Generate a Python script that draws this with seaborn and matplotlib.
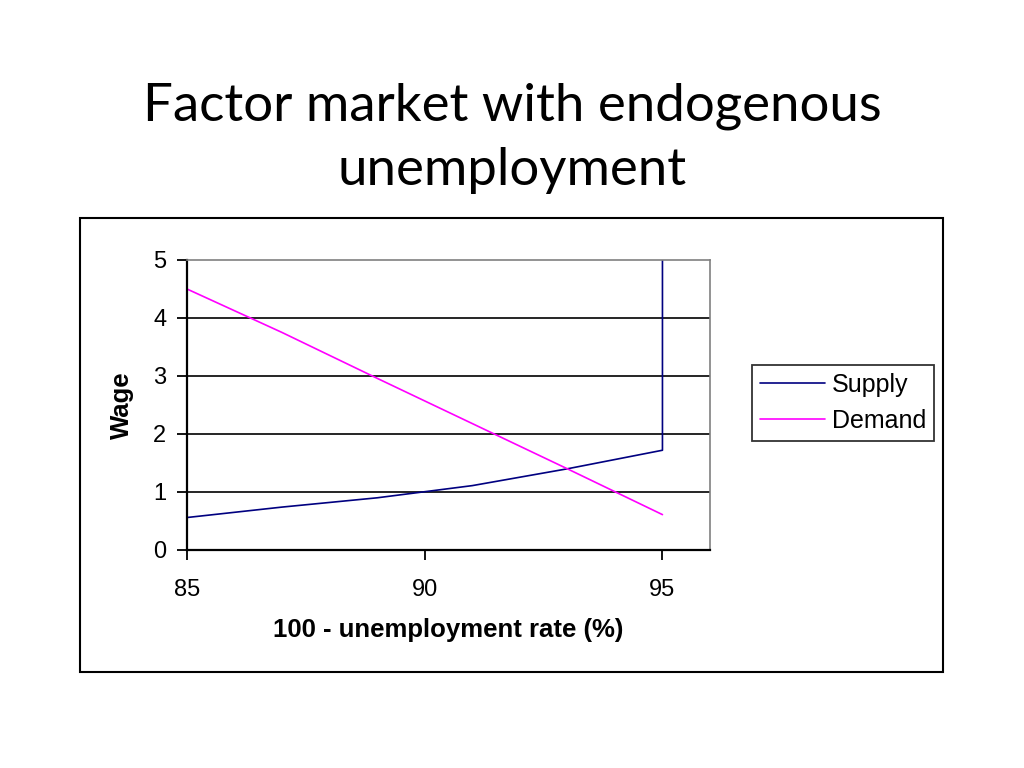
import seaborn as sns
import pandas as pd
import matplotlib
matplotlib.use('Agg')
from matplotlib import pyplot as plt
from matplotlib.patches import Rectangle

# donnees
supply_x = [85, 87, 89, 91, 93, 95, 95]
supply_y = [0.56, 0.74, 0.90, 1.11, 1.40, 1.72, 5.0]
demand_x = [85, 87, 89, 91, 93, 95]
demand_y = [4.5, 3.75, 2.96, 2.18, 1.40, 0.61]
series_names = ['Supply', 'Demand']
x_ticks = [85, 90, 95]
y_ticks = [0, 1, 2, 3, 4, 5]

df = pd.DataFrame({
    'x': supply_x + demand_x,
    'y': supply_y + demand_y,
    'serie': [series_names[0]] * len(supply_x) + [series_names[1]] * len(demand_x),
})

sns.set_style('white')
plt.rcParams['font.family'] = ['Liberation Sans', 'DejaVu Sans']
plt.rcParams['text.color'] = 'black'
plt.rcParams['axes.labelcolor'] = 'black'
plt.rcParams['xtick.color'] = 'black'
plt.rcParams['ytick.color'] = 'black'

fig = plt.figure(figsize=(10.24, 7.68), dpi=100)
ax = fig.add_axes([187 / 1024, 1 - 550 / 768, 523 / 1024, 290 / 768])

sns.lineplot(data=df, x='x', y='y', hue='serie', estimator=None, sort=False,
             palette={'Supply': '#000080', 'Demand': '#FF00FF'}, linewidth=1.2, ax=ax)

ax.set_xlim(85, 96)
ax.set_ylim(0, 5)
ax.set_xticks(x_ticks)
ax.set_yticks(y_ticks)
ax.tick_params(axis='both', direction='out', length=7, width=1.3, labelsize=17,
               bottom=True, left=True, color='black', labelcolor='black')
ax.tick_params(axis='x', pad=14)
ax.tick_params(axis='y', pad=8)
for y in y_ticks[1:5]:
    ax.axhline(y, color='black', linewidth=1.2, zorder=0)
for side in ['left', 'bottom']:
    ax.spines[side].set_color('black')
    ax.spines[side].set_linewidth(1.6)
for side in ['top', 'right']:
    ax.spines[side].set_color('#808080')
    ax.spines[side].set_linewidth(1.2)

ax.set_xlabel('100 - unemployment rate (%)', fontsize=18.5, fontweight='bold', labelpad=12)
ax.set_ylabel('Wage', fontsize=18.5, fontweight='bold', labelpad=14)

ax.get_legend().remove()
h, l = ax.get_legend_handles_labels()
fig.legend(h, l, loc='upper left', bbox_to_anchor=(752 / 1024, 1 - 365 / 768),
           frameon=True, fancybox=False, edgecolor='black', fontsize=18,
           handlelength=2.6, borderpad=0.3, labelspacing=0.5, handletextpad=0.3,
           borderaxespad=0)
fig.legends[0].get_frame().set_linewidth(1.3)

# cadre du graphique
fig.patches.append(Rectangle((80 / 1024, 1 - 672 / 768), 863 / 1024, 454 / 768,
                             transform=fig.transFigure, fill=False,
                             edgecolor='black', linewidth=1.5))

fig.text(0.5, 1 - 120 / 768, 'Factor market with endogenous', ha='center', va='baseline',
         fontsize=38, color='black', family=['Lato', 'DejaVu Sans'])
fig.text(0.5, 1 - 185 / 768, 'unemployment', ha='center', va='baseline',
         fontsize=38, color='black', family=['Lato', 'DejaVu Sans'])

fig.savefig('out.png', dpi=100)
